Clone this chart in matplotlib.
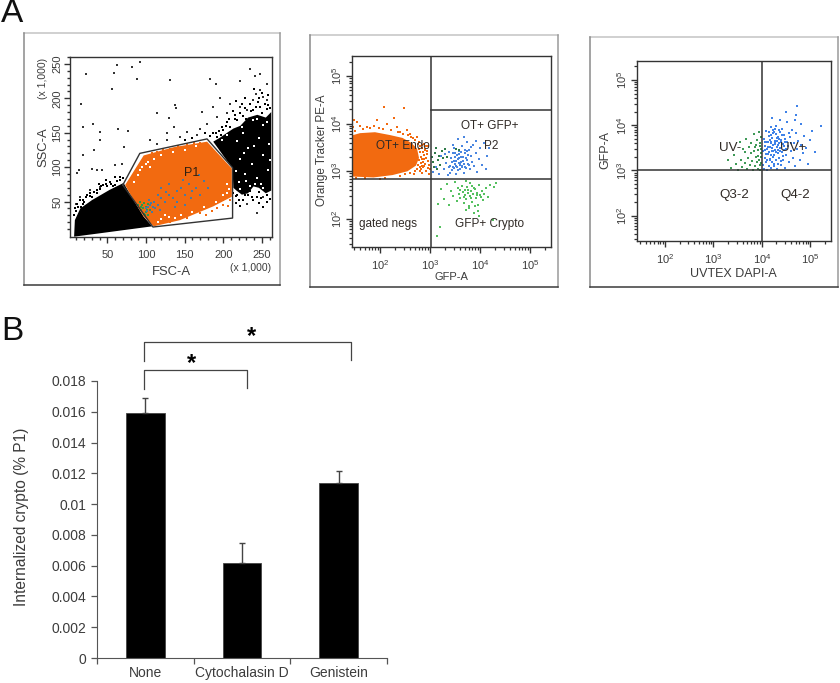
import numpy as np
from matplotlib import pyplot as plt
from matplotlib.lines import Line2D
from matplotlib.ticker import FixedLocator, LogLocator, NullFormatter

W = 840
H = 683

plt.rcParams["font.family"] = ["Liberation Sans", "DejaVu Sans"]
plt.rcParams["mathtext.fontset"] = "custom"
plt.rcParams["mathtext.rm"] = "Liberation Sans"
TEXT = "#3c3c3c"
ORANGE = "#f26a10"

# panel A, left plot: FSC-A / SSC-A in thousands
left_cloud_fsc = [7, 8, 15, 30, 53, 71, 84, 97, 108, 41]
left_cloud_ssc = [-1, 23, 40, 52, 67, 77, 52, 28, 14, 4]
right_cloud_fsc = [187, 196, 205, 213, 222, 232, 244, 255, 262, 262, 255, 246, 239, 232, 224, 217, 213, 212]
right_cloud_ssc = [137, 143, 150, 156, 160, 172, 176, 172, 180, 66, 62, 70, 72, 62, 60, 66, 70, 98]
p1_fill_fsc = [73, 97, 136, 179, 211, 211, 187, 144, 110, 97, 84]
p1_fill_ssc = [74, 117, 129, 137, 98, 57, 43, 23, 14, 28, 52]
p1_gate_fsc = [70, 92, 179, 212, 212, 109, 70]
p1_gate_ssc = [74, 120, 141, 99, 26, 13, 74]
stray_black = [
    (23, 235), (62, 248), (58, 237), (82, 245), (92, 253), (88, 228), (56, 213), (16, 192),
    (131, 226), (183, 228), (190, 221), (222, 225), (235, 243), (241, 232), (248, 235),
    (138, 190), (139, 186), (114, 178), (130, 171), (172, 180), (31, 163), (19, 158), (41, 151),
    (64, 156), (77, 152), (71, 129), (41, 139), (33, 125), (19, 117), (13, 96), (11, 91),
    (30, 98), (36, 96), (43, 96), (60, 103), (69, 105), (41, 71), (28, 67), (9, 47), (15, 57),
    (136, 158), (127, 149), (153, 151), (170, 156), (179, 163), (192, 173), (205, 178),
    (222, 187), (196, 200), (209, 192), (187, 187), (248, 212), (256, 221), (252, 202),
    (239, 197), (231, 183), (256, 197), (144, 144), (166, 146), (105, 139), (114, 134),
    (127, 139), (231, 47), (244, 33), (252, 57), (242, 206),
]
edge_black = [
    (53, 79), (60, 86), (45, 74), (36, 67), (23, 57), (19, 47), (60, 74), (66, 86),
    (237, 57), (228, 59), (220, 52), (192, 144), (200, 154), (209, 158), (218, 168), (226, 175),
    (239, 183), (248, 187), (256, 185), (187, 149), (213, 149), (195, 152), (205, 165), (215, 176),
    (228, 186), (245, 195), (258, 190), (183, 145), (176, 149), (160, 142), (150, 139), (48, 82),
    (39, 76), (27, 62), (14, 52), (234, 65), (225, 62), (246, 64), (218, 60), (256, 50), (217, 48),
    (190, 150), (198, 158), (208, 170), (215, 170), (222, 178), (230, 170), (236, 182), (242, 188),
    (250, 178), (254, 192), (260, 186), (234, 192), (224, 192), (212, 182), (204, 160), (197, 147),
    (250, 208), (258, 205), (246, 200), (228, 200), (216, 196), (240, 214), (232, 60), (238, 52),
    (246, 48), (252, 42), (225, 52), (216, 58), (222, 44), (243, 57), (256, 60), (260, 54), (249, 55),
    (212, 62), (215, 75), (214, 88), (216, 105), (214, 118), (70, 84), (63, 80), (55, 76), (48, 76),
    (42, 72), (33, 64), (24, 60), (18, 52), (11, 46), (9, 36), (12, 42), (20, 49), (28, 58), (37, 63),
    (50, 72), (57, 72), (67, 81), (40, 68), (30, 56), (16, 42), (7, 30), (8, 40),
]
white_specks = [
    (226, 150), (238, 168), (251, 161), (218, 138), (232, 128), (246, 143), (259, 133),
    (221, 112), (237, 105), (252, 118), (228, 90), (243, 84), (258, 96), (220, 78), (235, 73),
    (249, 75), (205, 147), (214, 160), (198, 140), (224, 158), (243, 170), (257, 165), (230, 80),
    (252, 70), (241, 76), (222, 68), (260, 110), (240, 130), (227, 120), (216, 95),
]
p1_white_specks = [
    (95, 100), (100, 105), (110, 112), (120, 118), (135, 122), (85, 78), (90, 88), (105, 100),
    (200, 60), (190, 50), (175, 42), (160, 35), (145, 30), (130, 28), (120, 24), (205, 75),
    (195, 42), (205, 62), (150, 125), (115, 20), (125, 30), (103, 108), (92, 96), (165, 130),
    (180, 38), (208, 68), (138, 26),
]
p1_orange_edge = [
    (84, 86), (92, 105), (101, 115), (114, 122), (131, 127), (153, 134), (170, 135), (200, 52),
    (192, 40), (170, 33), (153, 26), (131, 21), (209, 52), (200, 45), (78, 78), (88, 96),
    (96, 110), (108, 120), (122, 125), (142, 131), (162, 135), (178, 30), (185, 36), (206, 44),
]
p1_green = [
    (90, 45), (93, 38), (97, 32), (100, 35), (95, 45), (100, 42), (92, 50), (105, 38), (103, 30),
    (98, 48), (96, 40), (101, 37), (94, 42), (99, 31), (102, 46),
]
p1_blue = [
    (100, 40), (105, 45), (110, 50), (115, 45), (108, 35), (112, 40), (120, 55), (125, 50),
    (130, 60), (135, 55), (140, 65), (145, 70), (150, 60), (155, 75), (160, 65), (165, 70),
    (120, 70), (130, 75), (140, 50), (150, 45), (115, 60), (170, 60), (175, 80), (103, 42),
    (107, 48), (101, 36), (109, 42), (104, 52), (118, 38), (126, 64), (137, 42), (148, 82),
    (158, 55), (180, 70), (168, 88),
]

# panel A, middle plot: log10 of GFP-A / Orange Tracker PE-A
endo_x = [1.43, 1.60, 1.90, 2.20, 2.45, 2.62, 2.74, 2.78, 2.72, 2.55, 2.25, 1.87, 1.43]
endo_y = [3.75, 3.80, 3.82, 3.76, 3.70, 3.60, 3.48, 3.28, 3.12, 3.00, 2.92, 2.87, 2.89]
endo_stray = [
    (1.93, 4.07), (2.07, 4.35), (2.47, 4.32), (2.27, 4.11), (2.53, 3.86), (2.73, 3.72),
    (2.87, 3.58), (2.93, 3.37), (2.90, 3.15), (2.80, 3.01), (2.97, 2.94), (2.67, 2.94),
    (2.99, 3.05), (1.43, 4.00), (1.53, 4.04), (1.73, 3.93), (1.47, 4.07), (2.77, 3.23),
    (2.87, 3.26), (2.80, 3.54), (2.70, 3.33), (2.90, 3.44), (2.83, 3.12), (2.73, 3.05),
    (2.60, 3.79), (2.33, 3.93), (2.13, 4.00), (1.87, 3.96), (2.95, 3.22), (2.85, 3.40),
    (2.78, 3.62), (2.96, 3.52), (2.75, 3.14), (2.92, 3.00), (1.60, 3.95), (1.98, 3.90),
    (2.40, 3.82), (2.50, 2.95), (2.10, 2.86), (1.52, 2.85), (2.84, 2.96), (2.66, 3.69),
    (2.80, 3.40), (2.82, 3.30), (2.84, 3.48), (2.86, 3.20), (2.88, 3.34), (2.82, 3.18),
    (2.79, 3.10), (2.81, 3.05), (2.85, 3.08), (2.88, 3.12), (2.92, 3.28), (2.94, 3.42),
    (2.91, 3.54), (2.83, 3.56), (2.76, 3.58), (2.70, 3.66), (2.62, 3.72), (2.55, 3.76),
    (2.45, 3.78), (2.35, 3.82), (2.22, 3.86), (2.05, 3.89), (1.80, 3.90), (1.65, 3.88),
    (1.50, 3.85), (1.45, 3.92), (2.60, 2.97), (2.70, 3.00), (2.40, 2.91), (2.00, 2.84),
    (1.70, 2.85), (2.97, 3.14), (2.95, 3.06), (2.89, 3.46), (2.77, 3.46), (2.84, 3.26),
]
ot_gfp_blue = [
    (3.05, 2.98), (3.12, 3.10), (3.18, 2.95), (3.22, 3.32), (3.28, 3.05), (3.31, 3.18),
    (3.35, 2.92), (3.38, 3.41), (3.40, 3.12), (3.42, 3.28), (3.44, 3.02), (3.47, 3.22),
    (3.48, 3.48), (3.50, 3.15), (3.51, 2.95), (3.53, 3.35), (3.54, 3.08), (3.56, 3.25),
    (3.57, 3.18), (3.58, 3.42), (3.60, 3.04), (3.61, 3.30), (3.63, 3.12), (3.64, 3.52),
    (3.66, 3.22), (3.67, 2.97), (3.69, 3.38), (3.70, 3.10), (3.72, 3.28), (3.73, 3.62),
    (3.75, 3.16), (3.77, 3.45), (3.79, 3.05), (3.81, 3.32), (3.83, 3.20), (3.85, 3.55),
    (3.88, 3.12), (3.91, 3.38), (3.94, 2.98), (3.97, 3.26), (4.00, 3.48), (4.04, 3.14),
    (4.08, 3.60), (4.11, 3.05), (4.14, 3.32), (3.45, 3.56), (3.55, 3.68), (3.68, 3.72),
    (3.40, 2.96), (3.52, 3.22), (3.59, 3.14), (3.49, 3.30), (3.62, 3.20), (3.46, 3.10),
    (3.57, 3.36), (3.74, 3.42), (4.18, 3.48), (3.92, 3.64), (3.82, 3.50), (3.30, 3.36),
    (3.43, 3.20), (3.48, 3.06), (3.50, 3.38), (3.52, 3.12), (3.55, 3.02), (3.58, 3.28),
    (3.60, 3.18), (3.62, 3.40), (3.64, 3.08), (3.65, 3.30), (3.68, 3.16), (3.70, 3.44),
    (3.72, 3.06), (3.74, 3.24), (3.76, 3.34), (3.78, 3.14), (3.45, 3.38), (3.38, 3.08),
]
ot_gfp_darkgreen = [
    (3.06, 3.20), (3.10, 3.38), (3.14, 3.05), (3.16, 3.24), (3.20, 3.14), (3.23, 3.42),
    (3.26, 3.28), (3.08, 3.10), (3.30, 3.46), (3.34, 3.30), (3.12, 3.48), (3.04, 3.30),
    (3.52, 3.46), (3.58, 3.44), (3.18, 3.32),
]
crypto_green = [
    (3.22, 2.62), (3.28, 2.42), (3.33, 2.74), (3.38, 2.30), (3.42, 2.58), (3.46, 2.48),
    (3.50, 2.78), (3.53, 2.38), (3.55, 2.64), (3.58, 2.52), (3.60, 2.44), (3.63, 2.70),
    (3.65, 2.56), (3.67, 2.34), (3.69, 2.60), (3.70, 2.50), (3.72, 2.42), (3.74, 2.66),
    (3.76, 2.54), (3.77, 2.22), (3.79, 2.48), (3.80, 2.76), (3.82, 2.58), (3.84, 2.36),
    (3.86, 2.52), (3.88, 2.12), (3.90, 2.62), (3.92, 2.44), (3.94, 2.54), (3.96, 2.30),
    (3.98, 2.72), (4.00, 2.50), (4.03, 2.58), (4.06, 2.40), (4.08, 2.52), (4.12, 2.64),
    (4.15, 2.46), (4.20, 2.72), (4.28, 2.68), (4.32, 2.76), (3.98, 2.06), (3.15, 2.32),
    (3.13, 1.64), (3.20, 1.84), (4.27, 1.98), (3.72, 2.80), (3.84, 2.70), (3.60, 2.60),
    (3.68, 2.46), (3.75, 2.60), (3.81, 2.44), (3.87, 2.64), (3.93, 2.50), (4.02, 2.46),
    (3.78, 2.28), (3.90, 2.28), (3.72, 2.18), (3.96, 2.16),
]

# panel A, right plot: log10 of UVTEX DAPI-A / GFP-A
uv_pos_blue = [
    (4.02, 3.12), (4.03, 3.42), (4.04, 3.70), (4.05, 3.04), (4.06, 3.28), (4.07, 3.55),
    (4.08, 3.88), (4.09, 3.18), (4.10, 3.48), (4.11, 3.02), (4.12, 3.64), (4.13, 3.36),
    (4.14, 3.76), (4.15, 3.10), (4.16, 3.52), (4.17, 3.26), (4.18, 3.95), (4.19, 3.60),
    (4.20, 3.06), (4.21, 3.42), (4.22, 3.72), (4.23, 3.30), (4.24, 3.56), (4.25, 3.14),
    (4.26, 3.84), (4.27, 3.46), (4.28, 3.66), (4.29, 3.22), (4.30, 3.98), (4.31, 3.52),
    (4.32, 3.04), (4.33, 3.38), (4.34, 3.75), (4.35, 3.60), (4.36, 3.28), (4.37, 3.86),
    (4.38, 3.50), (4.39, 3.12), (4.40, 3.68), (4.41, 3.40), (4.42, 3.92), (4.43, 3.58),
    (4.44, 3.24), (4.45, 3.78), (4.46, 3.46), (4.47, 3.06), (4.48, 3.62), (4.50, 3.34),
    (4.52, 4.08), (4.54, 3.54), (4.56, 3.18), (4.58, 3.74), (4.60, 3.44), (4.62, 3.90),
    (4.64, 3.28), (4.66, 3.60), (4.68, 3.10), (4.70, 3.82), (4.72, 3.48), (4.75, 3.66),
    (4.78, 3.24), (4.80, 4.02), (4.82, 3.56), (4.85, 3.38), (4.88, 3.76), (4.92, 3.50),
    (4.95, 3.14), (5.00, 3.68), (5.04, 3.88), (5.10, 3.40), (5.22, 3.98), (4.72, 4.42),
    (4.70, 4.22), (4.68, 4.12), (4.22, 4.16), (4.38, 4.12), (4.50, 4.30), (4.16, 3.22),
    (4.24, 3.44), (4.28, 3.58), (4.34, 3.46), (4.20, 3.62), (4.32, 3.66), (4.14, 3.40),
    (4.10, 3.62), (4.26, 3.34), (4.36, 3.70), (4.18, 3.78), (4.30, 3.80), (4.06, 3.64),
    (4.08, 3.36), (4.12, 3.52), (4.16, 3.68), (4.22, 3.50), (4.24, 3.82), (4.27, 3.60),
    (4.29, 3.40), (4.31, 3.72), (4.33, 3.56), (4.35, 3.90), (4.37, 3.44), (4.39, 3.62),
    (4.41, 3.78), (4.43, 3.32), (4.45, 3.54), (4.47, 3.70), (4.49, 3.48), (4.19, 3.34),
    (4.21, 3.18), (4.26, 3.10), (4.34, 3.14), (4.28, 3.92), (4.23, 3.90), (4.15, 3.86),
    (4.07, 3.46), (4.11, 3.22), (4.40, 3.20), (4.52, 3.62), (4.56, 3.82), (4.60, 3.60),
]
uv_neg_green = [
    (3.30, 3.22), (3.36, 3.06), (3.42, 3.34), (3.46, 3.14), (3.50, 3.02), (3.54, 3.62),
    (3.56, 3.24), (3.60, 3.08), (3.62, 3.48), (3.65, 3.16), (3.68, 3.70), (3.70, 3.04),
    (3.72, 3.28), (3.74, 3.52), (3.76, 3.12), (3.78, 3.60), (3.80, 3.20), (3.82, 3.02),
    (3.83, 3.42), (3.84, 3.80), (3.86, 3.10), (3.87, 3.56), (3.88, 3.30), (3.90, 3.68),
    (3.91, 3.18), (3.92, 3.04), (3.93, 3.46), (3.94, 3.86), (3.95, 3.24), (3.96, 3.60),
    (3.97, 3.12), (3.98, 3.38), (3.99, 3.74), (3.98, 3.16), (3.96, 3.02), (3.92, 3.32),
    (3.85, 3.52), (3.78, 3.38), (3.66, 3.40), (3.99, 3.30), (3.99, 3.48), (3.97, 3.55),
]

# panel B
treatments = ["None", "Cytochalasin D", "Genistein"]
internalized = [0.0159, 0.00615, 0.0114]
internalized_top = [0.0169, 0.0075, 0.01215]
b_ticks = [0, 0.002, 0.004, 0.006, 0.008, 0.01, 0.012, 0.014, 0.016, 0.018]
b_tick_labels = ["0", "0.002", "0.004", "0.006", "0.008", "0.01", "0.012", "0.014", "0.016", "0.018"]


def pixel_axes(fig, left, top, right, bottom):
    return fig.add_axes([left / W, 1 - bottom / H, (right - left) / W, (bottom - top) / H])


def pixel_text(fig, x, y, text, **kwargs):
    kwargs.setdefault("color", TEXT)
    kwargs.setdefault("ha", "center")
    kwargs.setdefault("va", "center")
    fig.text(x / W, 1 - y / H, text, **kwargs)


def frame(fig, left, top, right, bottom):
    sides = [
        (left, top, right, top, "#c4c4c4"),
        (right, top, right, bottom, "#9a9a9a"),
        (left, top, left, bottom, "#8a8a8a"),
        (left, bottom, right, bottom, "#3a3a3a"),
    ]
    for x0, y0, x1, y1, color in sides:
        fig.add_artist(Line2D([x0 / W, x1 / W], [1 - y0 / H, 1 - y1 / H], color=color, lw=1.1))


def dots(ax, pairs, color, size=1.6, log=False):
    xy = np.array(pairs, dtype=float)
    if log:
        xy = 10 ** xy
    ax.scatter(xy[:, 0], xy[:, 1], s=size, c=color, marker="s", linewidths=0)


def style_spines(ax, color="#333333", width=1.0):
    for spine in ax.spines.values():
        spine.set_color(color)
        spine.set_linewidth(width)


def plot_scatter_panel(fig):
    frame(fig, 24, 33, 280, 285)
    ax = pixel_axes(fig, 70, 57, 272, 237)
    ax.set_xlim(1.7, 263)
    ax.set_ylim(-1.5, 259)
    ax.fill(left_cloud_fsc, left_cloud_ssc, color="k", lw=0)
    ax.fill(right_cloud_fsc, right_cloud_ssc, color="k", lw=0)
    ax.fill(p1_fill_fsc, p1_fill_ssc, color=ORANGE, lw=0)
    dots(ax, stray_black, "#333333", 0.8)
    dots(ax, edge_black, "k", 1.4)
    dots(ax, white_specks, "w", 0.8)
    dots(ax, p1_white_specks, "w", 1.2)
    dots(ax, p1_orange_edge, ORANGE, 1.6)
    dots(ax, p1_green, "#2f9a48", 3)
    dots(ax, p1_blue, "#4a7aa0", 1.4)
    ax.plot(p1_gate_fsc, p1_gate_ssc, color="#333333", lw=1)
    ax.text(159, 92, "P1", fontsize=9, color="#302010", ha="center", va="center")

    ax.set_xticks([50, 100, 150, 200, 250])
    ax.set_yticks([50, 100, 150, 200, 250])
    ax.set_xticks(np.arange(10, 261, 10), minor=True)
    ax.set_yticks(np.arange(10, 261, 10), minor=True)
    ax.tick_params(which="major", length=4, width=1, color="#333333", labelsize=8, labelcolor=TEXT)
    ax.tick_params(axis="x", which="major", pad=5)
    ax.tick_params(axis="y", which="major", pad=1.5)
    ax.tick_params(which="minor", length=2.5, width=1, color="#333333")
    plt.setp(ax.get_yticklabels(), rotation=90, va="center")
    style_spines(ax)
    pixel_text(fig, 171, 272, "FSC-A", fontsize=9.4)
    pixel_text(fig, 43, 147, "SSC-A", fontsize=9.4, rotation=90)
    pixel_text(fig, 251, 268, "(x 1,000)", fontsize=7.5)
    pixel_text(fig, 43, 78, "(x 1,000)", fontsize=7.5, rotation=90)


def log_axes(ax, xlim, ylim):
    ax.set_xscale("log")
    ax.set_yscale("log")
    ax.set_xlim(10 ** xlim[0], 10 ** xlim[1])
    ax.set_ylim(10 ** ylim[0], 10 ** ylim[1])
    decades = [100, 1000, 10000, 100000]
    labels = ["$\\mathregular{10^{%d}}$" % n for n in (2, 3, 4, 5)]
    for axis in (ax.xaxis, ax.yaxis):
        axis.set_major_locator(FixedLocator(decades))
        axis.set_ticklabels(labels)
        axis.set_minor_locator(LogLocator(base=10, subs=range(2, 10), numticks=12))
        axis.set_minor_formatter(NullFormatter())
    ax.tick_params(which="major", length=4, width=1, color="#333333", labelsize=8, labelcolor=TEXT)
    ax.tick_params(axis="x", which="major", pad=4)
    ax.tick_params(axis="y", which="major", pad=1.5)
    ax.tick_params(which="minor", length=2.5, width=0.9, color="#333333")
    plt.setp(ax.get_yticklabels(), rotation=90, va="center")
    style_spines(ax)


def plot_gfp_panel(fig):
    frame(fig, 310, 35, 558, 287)
    ax = pixel_axes(fig, 352, 56, 551, 247)
    log_axes(ax, (1.44, 5.42), (1.41, 5.42))
    ax.fill(10 ** np.array(endo_x), 10 ** np.array(endo_y), color=ORANGE, lw=0)
    dots(ax, endo_stray, ORANGE, 1.4, log=True)
    dots(ax, crypto_green, "#55c060", 1.4, log=True)
    dots(ax, ot_gfp_blue, "#4a86e0", 1.8, log=True)
    dots(ax, ot_gfp_darkgreen, "#2e7a48", 1.6, log=True)
    ax.axvline(1030, color="#333333", lw=1.1)
    ax.axhline(10 ** 2.84, color="#333333", lw=1.1)
    ax.plot([1030, 10 ** 5.42], [10 ** 4.28, 10 ** 4.28], color="#333333", lw=1.1)
    labels = [
        (2.45, 3.54, "OT+ Endo"), (4.20, 3.94, "OT+ GFP+"), (4.23, 3.54, "P2"),
        (2.16, 1.89, "gated negs"), (4.19, 1.89, "GFP+ Crypto"),
    ]
    for x, y, text in labels:
        ax.text(10 ** x, 10 ** y, text, fontsize=8.5, color="#302a26", ha="center", va="center")
    pixel_text(fig, 451, 277, "GFP-A", fontsize=8)
    pixel_text(fig, 322, 150, "Orange Tracker PE-A", fontsize=8.4, rotation=90)


def plot_uv_panel(fig):
    frame(fig, 590, 37, 838, 287)
    ax = pixel_axes(fig, 637, 61, 831, 241)
    log_axes(ax, (1.42, 5.43), (1.44, 5.42))
    dots(ax, uv_neg_green, "#3f9a58", 1.4, log=True)
    dots(ax, uv_pos_blue, "#3f82e8", 2.0, log=True)
    ax.axvline(10000, color="#333333", lw=1.1)
    ax.axhline(1000, color="#333333", lw=1.1)
    labels = [(3.34, 3.50, "UV-"), (4.64, 3.50, "UV+"), (3.43, 2.46, "Q3-2"), (4.70, 2.46, "Q4-2")]
    for x, y, text in labels:
        ax.text(10 ** x, 10 ** y, text, fontsize=9.6, color="#302a26", ha="center", va="center")
    pixel_text(fig, 733, 274, "UVTEX DAPI-A", fontsize=9)
    pixel_text(fig, 605, 150, "GFP-A", fontsize=9, rotation=90)


def plot_bars(fig):
    ax = pixel_axes(fig, 97, 381, 387, 658)
    x = np.arange(len(treatments))
    errors = np.array(internalized_top) - np.array(internalized)
    ax.bar(x, internalized, width=0.4, color="k", edgecolor="#444444", linewidth=0.6)
    ax.errorbar(x, internalized, yerr=[np.zeros(3), errors], fmt="none", ecolor="#444444", elinewidth=1,
                capsize=2.5, capthick=1)
    ax.set_xlim(-0.5, 2.5)
    ax.set_ylim(0, 0.018)
    ax.set_yticks(b_ticks)
    ax.set_yticklabels(b_tick_labels)
    ax.set_xticks([-0.5, 0.5, 1.5, 2.5])
    ax.set_xticklabels([])
    ax.set_xticks(x, minor=True)
    ax.set_xticklabels(treatments, minor=True)
    ax.tick_params(which="major", length=4, width=0.9, color="#555555", labelsize=10, labelcolor=TEXT)
    ax.tick_params(axis="x", which="minor", length=0, labelsize=10, labelcolor=TEXT, pad=6)
    ax.spines["top"].set_visible(False)
    ax.spines["right"].set_visible(False)
    ax.spines["left"].set_color("#555555")
    ax.spines["bottom"].set_color("#555555")
    pixel_text(fig, 22, 517, "Internalized crypto (% P1)", fontsize=11.2, rotation=90)

    # significance brackets above the bars
    for xs, ys in [
        ([143.5, 143.5, 247, 247], [389, 370, 370, 388]),
        ([143.5, 143.5, 351, 351], [361, 342, 342, 360]),
    ]:
        fig.add_artist(Line2D(np.array(xs) / W, 1 - np.array(ys) / H, color="#444444", lw=0.9))
    pixel_text(fig, 191.5, 364, "*", fontsize=17, color="k", fontweight="bold")
    pixel_text(fig, 251.5, 337, "*", fontsize=17, color="k", fontweight="bold")


def main():
    fig = plt.figure(figsize=(W / 100, H / 100), dpi=100, facecolor="w")
    plot_scatter_panel(fig)
    plot_gfp_panel(fig)
    plot_uv_panel(fig)
    plot_bars(fig)
    pixel_text(fig, 12, 14, "A", fontsize=24, color="#111111")
    pixel_text(fig, 12, 332, "B", fontsize=24, color="#111111")
    fig.savefig("out.png", dpi=100)


if __name__ == "__main__":
    main()
